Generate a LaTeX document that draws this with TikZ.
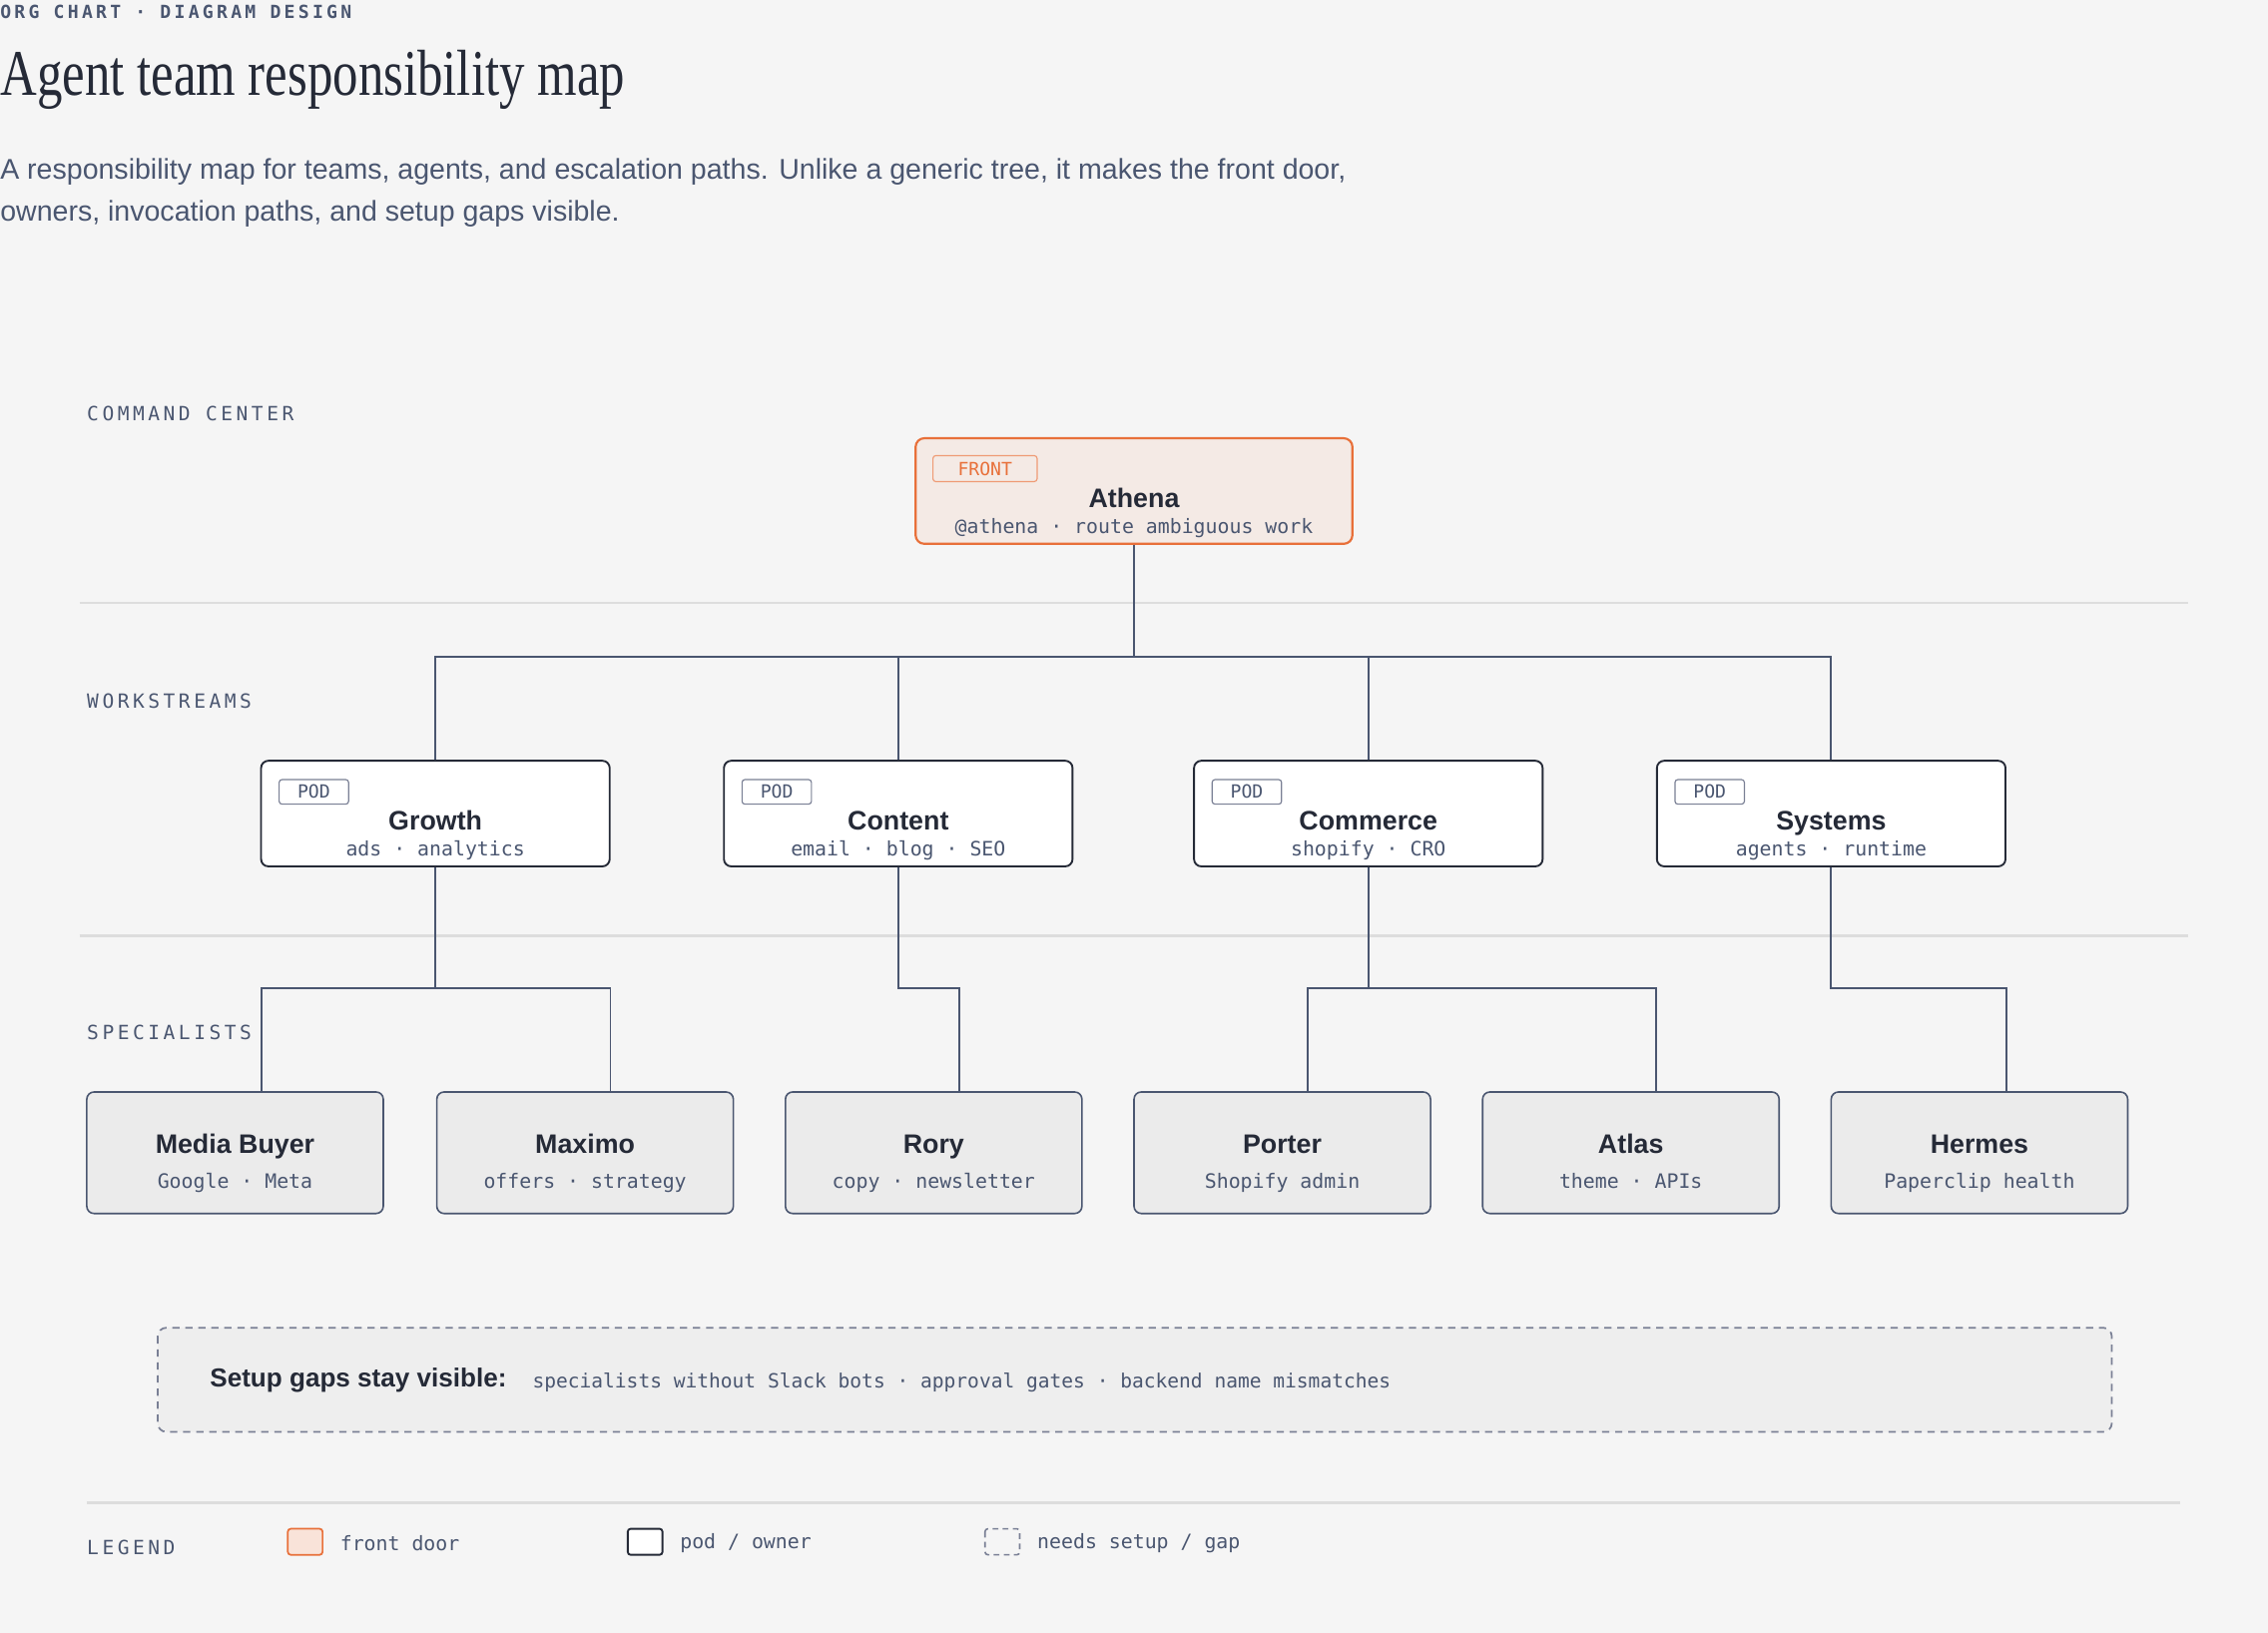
\documentclass[tikz,border=0pt]{standalone}
\usepackage{graphicx}
\usepackage{fontspec}
\setmainfont{Liberation Serif}
\setsansfont{Liberation Sans}
\setmonofont{DejaVu Sans Mono}
\newfontfamily\labfont[LetterSpace=18]{DejaVu Sans Mono}
\definecolor{bg}{HTML}{F5F5F5}
\definecolor{ink}{HTML}{252A37}
\definecolor{slate}{HTML}{4A5670}
\definecolor{org}{HTML}{E8703A}
\definecolor{orgfill}{HTML}{F4EAE5}
\definecolor{specfill}{HTML}{EBEBEB}
\definecolor{rule}{HTML}{DDDDDD}
\definecolor{dash}{HTML}{7A8095}
\tikzset{
  box/.style={draw=ink,line width=1.3pt,rounded corners=5pt,fill=white},
  front/.style={draw=org,line width=1.5pt,rounded corners=6pt,fill=orgfill},
  spec/.style={draw=slate,line width=1.1pt,rounded corners=5pt,fill=specfill},
  tag/.style={draw=dash,line width=0.8pt,rounded corners=2pt,fill=white,inner sep=0pt,font=\ttfamily\fontsize{12.5}{12.5}\selectfont,text=slate},
  ttl/.style={font=\sffamily\bfseries\fontsize{18.5}{18.5}\selectfont,text=ink,inner sep=0pt,anchor=base},
  sub/.style={font=\ttfamily\fontsize{13.7}{13.7}\selectfont,text=slate,inner sep=0pt,anchor=base},
  lab/.style={font=\labfont\fontsize{13.5}{13.5}\selectfont,text=slate,anchor=west,inner sep=0pt},
  conn/.style={draw=slate,line width=1.3pt},
  sep/.style={draw=rule,line width=1.5pt}
}
\begin{document}
\begin{tikzpicture}[x=1pt,y=-1pt]
\fill[bg] (0,0) rectangle (1568,1129);
\useasboundingbox (0,0) rectangle (1568,1129);
% header
\node[anchor=west,inner sep=0pt,font=\labfont\bfseries\fontsize{12.5}{12.5}\selectfont,text=slate] (hd) at (0,8) {ORG CHART · DIAGRAM DESIGN};
\node[anchor=base west,inner sep=0pt,font=\fontsize{45}{45}\selectfont,text=ink] (tt) at (0,66) {\scalebox{0.78}[1]{Agent team responsibility map}};
\node[anchor=base west,inner sep=0pt,font=\sffamily\fontsize{19.7}{19.7}\selectfont,text=slate] (p1) at (0,124) {A responsibility map for teams, agents, and escalation paths. Unlike a generic tree, it makes the front door,};
\node[anchor=base west,inner sep=0pt,font=\sffamily\fontsize{19.7}{19.7}\selectfont,text=slate] (p2) at (0,153) {owners, invocation paths, and setup gaps visible.};
% section labels
\node[lab] (l1) at (60,286) {COMMAND CENTER};
\node[lab] (l2) at (60,485) {WORKSTREAMS};
\node[lab] (l3) at (60,714) {SPECIALISTS};
\draw[sep] (55,417) -- (1513,417);
\draw[sep] (55,647) -- (1513,647);
% connectors
\coordinate (a0) at (784,454);
\coordinate (bl) at (301,454); \coordinate (br) at (1266,454);
\coordinate (c2) at (621,454); \coordinate (c3) at (946,454);
\draw[conn] (784,376) -- (a0);
\draw[conn] (301,526) -- (bl) -- (br) -- (1266,526);
\draw[conn] (c2) -- (621,526);
\draw[conn] (c3) -- (946,526);
\draw[conn] (301,599) -- (301,683);
\draw[conn] (181,755) -- (181,683) -- (422,683) -- (422,755);
\draw[conn] (621,599) -- (621,683) -- (663,683) -- (663,755);
\draw[conn] (946,599) -- (946,683);
\draw[conn] (904,755) -- (904,683) -- (1145,683) -- (1145,755);
\draw[conn] (1266,599) -- (1266,683) -- (1387,683) -- (1387,755);
% Athena
\draw[front] (633,303) rectangle (935,376);
\node[tag,draw=org!70,text=org,fill=orgfill,minimum width=72pt,minimum height=18pt] (ft) at (681,324) {FRONT};
\node[ttl] (ath) at (784,351) {Athena};
\node[sub] (aths) at (784,369) {@athena · route ambiguous work};
% pods
\foreach \n/\cx/\t/\s in {g/301/Growth/ads · analytics, c/621/Content/email · blog · SEO, m/946/Commerce/shopify · CRO, s/1266/Systems/agents · runtime}{
  \draw[box] (\cx-120.5,526) rectangle (\cx+120.5,599);
  \node[tag,minimum width=48pt,minimum height=17pt] (\n tag) at (\cx-84,547.5) {POD};
  \node[ttl] (\n) at (\cx,574) {\t};
  \node[sub] (\n s) at (\cx,592) {\s};
}
% specialists
\foreach \n/\cx/\t/\s in {mb/162.5/Media Buyer/Google · Meta, mx/404.5/Maximo/offers · strategy, ro/645.5/Rory/copy · newsletter, po/886.5/Porter/Shopify admin, at/1127.5/Atlas/theme · APIs, he/1368.5/Hermes/Paperclip health}{
  \draw[spec] (\cx-102.5,755) rectangle (\cx+102.5,839);
  \node[ttl] (\n) at (\cx,797.5) {\t};
  \node[sub] (\n s) at (\cx,821.5) {\s};
}
% gaps
\draw[draw=dash,line width=1.2pt,dash pattern=on 5pt off 4pt,rounded corners=6pt,fill=bg!97!black] (109,918) rectangle (1460,990);
\node[anchor=west,inner sep=0pt,font=\sffamily\bfseries\fontsize{18}{18}\selectfont,text=ink] (gp) at (145,954) {Setup gaps stay visible:};
\node[anchor=west,inner sep=0pt,font=\ttfamily\fontsize{13.5}{13.5}\selectfont,text=slate] (gps) at (368,956) {specialists without Slack bots · approval gates · backend name mismatches};
% legend
\draw[sep] (60,1039) -- (1507,1039);
\node[lab] (lg) at (60,1070) {LEGEND};
\draw[draw=org,fill=orgfill!60!org!40,line width=1.2pt,rounded corners=2pt] (199,1057) rectangle (223,1075);
\node[sub,anchor=west] (lg1) at (235,1067) {front door};
\draw[draw=ink,fill=white,line width=1.3pt,rounded corners=2pt] (434,1057) rectangle (458,1075);
\node[sub,anchor=west] (lg2) at (470,1067) {pod / owner};
\draw[draw=dash,line width=1.1pt,dash pattern=on 4pt off 3pt,rounded corners=2pt] (681,1057) rectangle (705,1075);
\node[sub,anchor=west] (lg3) at (717,1067) {needs setup / gap};
\end{tikzpicture}
\end{document}
